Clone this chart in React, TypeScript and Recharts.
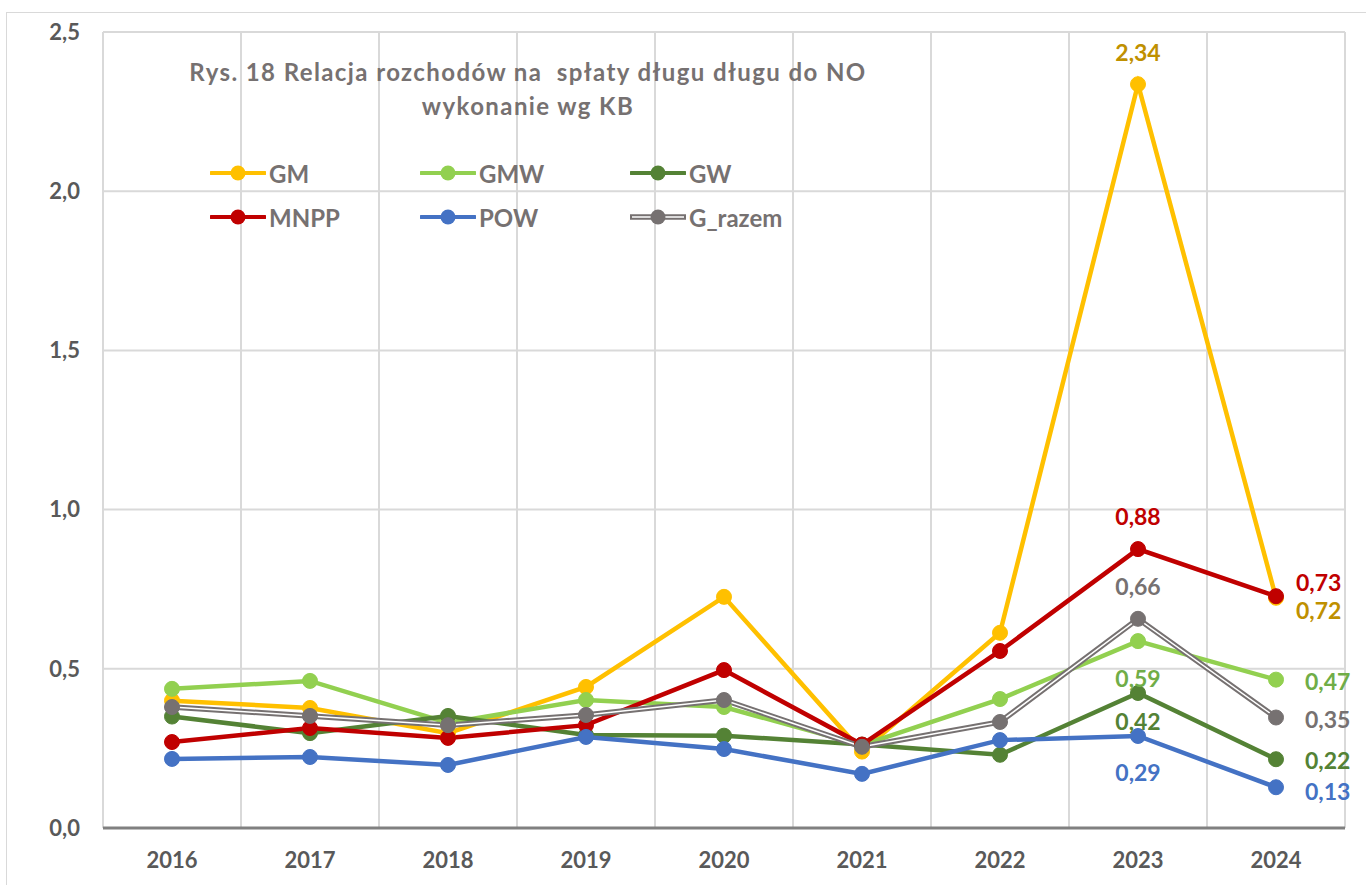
import React from 'react';
import { LineChart, Line, XAxis, YAxis, CartesianGrid, ReferenceLine, LabelList } from 'recharts';

const years = ['2016', '2017', '2018', '2019', '2020', '2021', '2022', '2023', '2024'];
const gm = [0.4, 0.377, 0.298, 0.443, 0.726, 0.24, 0.613, 2.336, 0.723];
const gmw = [0.437, 0.462, 0.33, 0.402, 0.38, 0.26, 0.405, 0.587, 0.466];
const gw = [0.35, 0.298, 0.352, 0.292, 0.29, 0.262, 0.23, 0.424, 0.216];
const mnpp = [0.27, 0.314, 0.283, 0.323, 0.496, 0.262, 0.556, 0.876, 0.728];
const pow = [0.217, 0.223, 0.198, 0.286, 0.248, 0.17, 0.276, 0.289, 0.128];
const gRazem = [0.38, 0.352, 0.323, 0.355, 0.402, 0.255, 0.333, 0.657, 0.347];
const yTicks = [0, 0.5, 1, 1.5, 2, 2.5];

const FONT = 'Lato, "Open Sans", sans-serif';
const GREY_TEXT = '#595959';

const data = years.map((year, i) => ({
  pos: i + 0.5,
  year,
  gm: gm[i],
  gmw: gmw[i],
  gw: gw[i],
  mnpp: mnpp[i],
  pow: pow[i],
  gRazem: gRazem[i],
}));

const xTicks = data.map((d) => d.pos);
const boundaries = [...years.map((_, i) => i), years.length];

const fmt = (v: number, digits = 2) => v.toFixed(digits).replace('.', ',');

// label offsets for the last two points only (2023, 2024)
type Spot = [number, number, 'start' | 'middle'];
const makeLabel = (color: string, spots: Record<number, Spot>) => (props: any) => {
  const { x, y, value, index } = props;
  const s = spots[index];
  if (!s || value == null) return null;
  return (
    <text
      x={x + s[0]}
      y={y + s[1]}
      fill={color}
      fontSize={23}
      fontWeight={700}
      fontFamily={FONT}
      textAnchor={s[2]}
      dominantBaseline="central"
    >
      {fmt(Number(value))}
    </text>
  );
};

const legendItems = [
  { name: 'GM', color: '#FFC000', col: 0, row: 0 },
  { name: 'GMW', color: '#92D050', col: 1, row: 0 },
  { name: 'GW', color: '#548235', col: 2, row: 0 },
  { name: 'MNPP', color: '#C00000', col: 0, row: 1 },
  { name: 'POW', color: '#4472C4', col: 1, row: 1 },
  { name: 'G_razem', color: '#767171', col: 2, row: 1, double: true },
];

function Legend() {
  return (
    <>
      {legendItems.map((it) => (
        <div
          key={it.name}
          style={{
            position: 'absolute',
            left: 210 + it.col * 210,
            top: 173 + it.row * 44 - 14,
            height: 28,
            display: 'flex',
            alignItems: 'center',
            fontFamily: FONT,
            fontWeight: 700,
            fontSize: 24,
            color: '#767171',
          }}
        >
          <svg width={56} height={28} style={{ display: 'block' }}>
            <line x1={1} x2={55} y1={14} y2={14} stroke={it.color} strokeWidth={it.double ? 5.5 : 4} strokeLinecap="round" />
            {it.double && <line x1={2} x2={54} y1={14} y2={14} stroke="#fff" strokeWidth={1.5} />}
            <circle cx={28} cy={14} r={7.5} fill={it.color} />
          </svg>
          <span style={{ marginLeft: 3 }}>{it.name}</span>
        </div>
      ))}
    </>
  );
}

export default function App() {
  const dot = (color: string) => ({ r: 7.5, fill: color, stroke: color, strokeWidth: 1 });
  return (
    <div style={{ position: 'absolute', left: 0, top: 0, width: 1366, height: 885, background: '#fff', overflow: 'hidden' }}>
      <div
        style={{
          position: 'absolute',
          left: 6,
          top: 12,
          width: 1380,
          height: 900,
          border: '1.5px solid #D9D9D9',
        }}
      />
      <LineChart width={1366} height={885} data={data} margin={{ top: 32, right: 21, left: 8, bottom: 17 }}>
        <CartesianGrid vertical={false} stroke="#D9D9D9" strokeWidth={2} />
        {boundaries.map((b) => (
          <ReferenceLine key={b} x={b} stroke="#D9D9D9" strokeWidth={2} ifOverflow="extendDomain" />
        ))}
        <XAxis
          dataKey="pos"
          type="number"
          domain={[0, years.length]}
          ticks={xTicks}
          tickFormatter={(v: number) => years[Math.floor(v)]}
          tickLine={false}
          tickSize={0}
          tickMargin={24}
          height={40}
          axisLine={{ stroke: '#808080', strokeWidth: 3 }}
          tick={{ fill: GREY_TEXT, fontSize: 22, fontWeight: 700, fontFamily: FONT }}
        />
        <YAxis
          domain={[0, 2.5]}
          ticks={yTicks}
          tickFormatter={(v: number) => fmt(v, 1)}
          axisLine={false}
          tickLine={false}
          tickSize={0}
          tickMargin={23}
          width={95}
          tick={{ fill: GREY_TEXT, fontSize: 22, fontWeight: 700, fontFamily: FONT }}
        />
        <Line dataKey="gm" stroke="#FFC000" strokeWidth={4.5} dot={dot('#FFC000')} activeDot={false} isAnimationActive={false}>
          <LabelList dataKey="gm" content={makeLabel('#BF9000', { 7: [0, -32, 'middle'], 8: [20, 12, 'start'] })} />
        </Line>
        <Line dataKey="gmw" stroke="#92D050" strokeWidth={4.5} dot={dot('#92D050')} activeDot={false} isAnimationActive={false}>
          <LabelList dataKey="gmw" content={makeLabel('#70AD47', { 7: [0, 37, 'middle'], 8: [29, 1, 'start'] })} />
        </Line>
        <Line dataKey="gw" stroke="#548235" strokeWidth={4.5} dot={dot('#548235')} activeDot={false} isAnimationActive={false}>
          <LabelList dataKey="gw" content={makeLabel('#548235', { 7: [0, 28, 'middle'], 8: [29, 1, 'start'] })} />
        </Line>
        <Line dataKey="mnpp" stroke="#C00000" strokeWidth={4.5} dot={dot('#C00000')} activeDot={false} isAnimationActive={false}>
          <LabelList dataKey="mnpp" content={makeLabel('#C00000', { 7: [0, -33, 'middle'], 8: [20, -14, 'start'] })} />
        </Line>
        <Line dataKey="pow" stroke="#4472C4" strokeWidth={4.5} dot={dot('#4472C4')} activeDot={false} isAnimationActive={false}>
          <LabelList dataKey="pow" content={makeLabel('#4472C4', { 7: [0, 36, 'middle'], 8: [29, 4, 'start'] })} />
        </Line>
        <Line dataKey="gRazem" stroke="#767171" strokeWidth={5.5} dot={false} activeDot={false} isAnimationActive={false} />
        <Line dataKey="gRazem" stroke="#FFFFFF" strokeWidth={1.5} dot={dot('#767171')} activeDot={false} isAnimationActive={false}>
          <LabelList dataKey="gRazem" content={makeLabel('#767171', { 7: [0, -33, 'middle'], 8: [29, 1, 'start'] })} />
        </Line>
      </LineChart>
      <div
        style={{
          position: 'absolute',
          left: 128,
          top: 55,
          width: 800,
          textAlign: 'center',
          fontFamily: FONT,
          fontWeight: 700,
          fontSize: 24,
          letterSpacing: 1.4,
          lineHeight: '34px',
          color: '#767171',
          whiteSpace: 'pre',
        }}
      >
        {'Rys. 18 Relacja rozchodów na  spłaty długu długu do NO\nwykonanie wg KB'}
      </div>
      <Legend />
    </div>
  );
}
